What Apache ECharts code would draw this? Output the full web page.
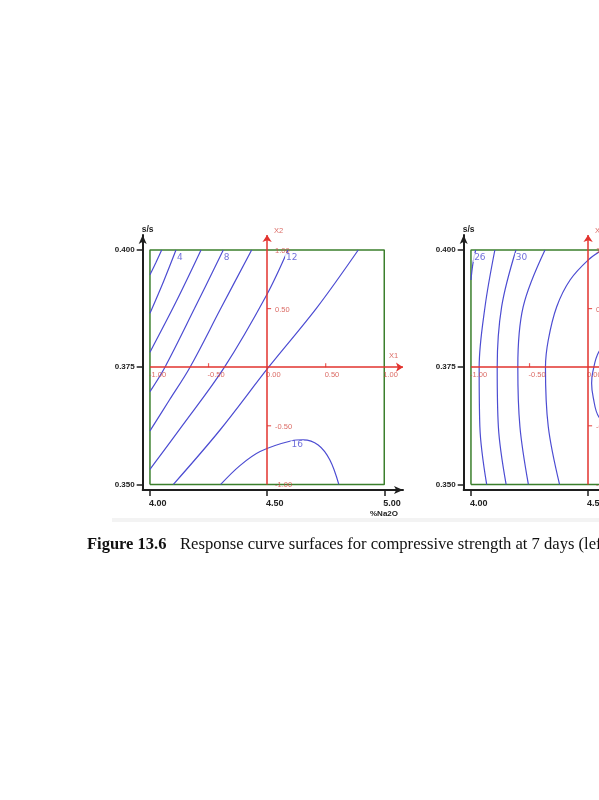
<!DOCTYPE html>
<html><head><meta charset="utf-8">
<script src="https://cdn.jsdelivr.net/npm/echarts@6/dist/echarts.min.js"></script>
<style>html,body{margin:0;padding:0;background:#fff}#c{width:599px;height:800px}</style>
</head><body><div id="c"></div>
<script>
// ---------- data ----------
const xTicks = [4.00, 4.50, 5.00];
const yTicks = [0.350, 0.375, 0.400];
const xName = '%Na2O';
const yName = 's/s';
const codedTicks = [-1, -0.5, 0, 0.5, 1];
const codedLabels = ['-1.00', '-0.50', '0.00', '0.50', '1.00'];
const codedAxisNames = ['X1', 'X2'];

// left panel (7 days): contour polylines, points as [%Na2O, s/s]
const left2  = [[4.050,0.4000],[4.025,0.3973],[4.000,0.3947]];
const left4  = [[4.111,0.4000],[4.058,0.3933],[4.000,0.3865]];
const left6  = [[4.218,0.4000],[4.112,0.3890],[4.000,0.3782]];
const left8  = [[4.313,0.4000],[4.190,0.3875],[4.064,0.3750],[4.000,0.3698]];
const left10 = [[4.434,0.4000],[4.302,0.3875],[4.171,0.3750],[4.083,0.3680],[4.000,0.3614]];
const left12 = [[4.589,0.4000],[4.498,0.3904],[4.318,0.3750],[4.135,0.3623],[4.000,0.3532]];
const left14 = [[4.889,0.4000],[4.711,0.3876],[4.508,0.3751],[4.299,0.3616],[4.100,0.3500]];
const left16 = [[4.302,0.3500],[4.384,0.3540],[4.470,0.3570],[4.605,0.3593],[4.654,0.3595],[4.718,0.3584],[4.768,0.3552],[4.806,0.3500]];
const leftLabelText = ['4', '8', '12', '16'];
const leftLabelAt = [[4.128,0.3984],[4.327,0.3984],[4.605,0.3984],[4.629,0.3584]];

// right panel (28 days)
const right26 = [[4.020,0.4000],[4.008,0.3970],[4.000,0.3936]];
const right28 = [[4.102,0.4000],[4.060,0.3879],[4.035,0.3750],[4.038,0.3623],[4.067,0.3500]];
const right30 = [[4.192,0.4000],[4.131,0.3879],[4.112,0.3750],[4.117,0.3623],[4.150,0.3500]];
const right32 = [[4.316,0.4000],[4.223,0.3879],[4.200,0.3750],[4.209,0.3623],[4.245,0.3500]];
const right34 = [[4.560,0.4000],[4.501,0.3979],[4.423,0.3936],[4.366,0.3879],[4.330,0.3808],[4.318,0.3750],[4.330,0.3623],[4.378,0.3500]];
const right36 = [[4.640,0.3840],[4.546,0.3783],[4.520,0.3740],[4.515,0.3716],[4.522,0.3685],[4.546,0.3644],[4.640,0.3600]];
const rightLabelText = ['26', '30'];
const rightLabelAt = [[4.038,0.3984],[4.216,0.3984]];

const captionBold = 'Figure 13.6';
const captionText = 'Response curve surfaces for compressive strength at 7 days (left) and 28 days (right).';

// ---------- styles / layout ----------
const BLUE = '#4c4cd2', RED = '#e2332e', REDTXT = '#d2463f', GREEN = '#3b7f2c', AX = '#1e1e1e';
const X_MIN = 3.969, X_MAX = 5.080, Y_MIN = 0.3488, Y_MAX = 0.4032;
const BOX = [[4,0.35],[5,0.35],[5,0.4],[4,0.4],[4,0.35]];
const panels = [
  {left: 142.7, lines: [left2,left4,left6,left8,left10,left12,left14,left16], labText: leftLabelText, labAt: leftLabelAt},
  {left: 463.7, lines: [right26,right28,right30,right32,right34,right36], labText: rightLabelText, labAt: rightLabelAt}
];
const c2x = c => 4.5 + 0.5 * c;
const c2y = c => 0.375 + 0.025 * c;

const grid = [], xAxis = [], yAxis = [], series = [];
panels.forEach((p, i) => {
  grid.push({left: p.left, top: 235, width: 260.3, height: 255, containLabel: false, outerBoundsMode: 'none'});
  xAxis.push({
    type: 'value', gridIndex: i, min: X_MIN, max: X_MAX,
    splitLine: {show: false},
    axisLine: {show: true, lineStyle: {color: AX, width: 2}, symbol: ['none', 'arrow'], symbolSize: [6, 9]},
    axisTick: {show: true, customValues: xTicks, length: 6, lineStyle: {color: AX, width: 1.5}},
    axisLabel: {customValues: xTicks, formatter: v => v.toFixed(2), align: 'left', margin: 9,
      fontSize: 9, fontWeight: 'bold', color: '#222', fontFamily: 'Liberation Sans', padding: [0,0,0,-1]},
    name: xName, nameLocation: 'end', nameGap: -5,
    nameTextStyle: {align: 'right', verticalAlign: 'top', padding: [20,0,0,0], fontSize: 8, fontWeight: 'bold', color: '#222', fontFamily: 'Liberation Sans'}
  });
  yAxis.push({
    type: 'value', gridIndex: i, min: Y_MIN, max: Y_MAX,
    splitLine: {show: false},
    axisLine: {show: true, lineStyle: {color: AX, width: 2}, symbol: ['none', 'arrow'], symbolSize: [6, 9]},
    axisTick: {show: true, customValues: yTicks, length: 6, lineStyle: {color: AX, width: 1.5}},
    axisLabel: {customValues: yTicks, formatter: v => v.toFixed(3), margin: 8,
      fontSize: 8, fontWeight: 'bold', color: '#222', fontFamily: 'Liberation Sans'},
    name: yName, nameLocation: 'end', nameGap: 1,
    nameTextStyle: {align: 'left', verticalAlign: 'bottom', padding: [0,0,0,-1], fontSize: 8.5, fontWeight: 'bold', color: '#222', fontFamily: 'Liberation Sans'}
  });
  // green frame + red coded axes
  series.push({
    type: 'line', xAxisIndex: i, yAxisIndex: i, data: BOX, symbol: 'none', silent: true, z: 2,
    lineStyle: {color: GREEN, width: 1.5}, animation: false,
    markLine: {
      silent: true, symbol: ['none', 'arrow'], symbolSize: 7, label: {show: false}, animation: false,
      lineStyle: {color: RED, width: 1.5, type: 'solid'},
      emphasis: {disabled: true},
      data: [
        [{coord: [c2x(-1), c2y(0)]}, {coord: [X_MAX, c2y(0)]}],
        [{coord: [c2x(0), c2y(-1)]}, {coord: [c2x(0), Y_MAX]}]
      ]
    }
  });
  // red small ticks
  series.push({
    type: 'scatter', xAxisIndex: i, yAxisIndex: i, silent: true, z: 4, animation: false,
    symbol: 'rect', symbolSize: [1.2, 4], symbolOffset: [0, -2], itemStyle: {color: RED},
    data: codedTicks.filter(c => Math.abs(c) === 0.5).map(c => [c2x(c), c2y(0)])
  });
  series.push({
    type: 'scatter', xAxisIndex: i, yAxisIndex: i, silent: true, z: 4, animation: false,
    symbol: 'rect', symbolSize: [4, 1.2], symbolOffset: [2, 0], itemStyle: {color: RED},
    data: codedTicks.filter(c => Math.abs(c) === 0.5).map(c => [c2x(0), c2y(c)])
  });
  const redLab = {show: true, color: REDTXT, fontSize: 7.5, fontFamily: 'Liberation Sans', formatter: d => d.value[2]};
  series.push({
    type: 'scatter', xAxisIndex: i, yAxisIndex: i, silent: true, z: 5, symbolSize: 0, animation: false, clip: false,
    label: Object.assign({position: [-1, 4], align: 'left', verticalAlign: 'top'}, redLab),
    data: codedTicks.map((c, k) => [c2x(c), c2y(0), codedLabels[k]])
  });
  series.push({
    type: 'scatter', xAxisIndex: i, yAxisIndex: i, silent: true, z: 5, symbolSize: 0, animation: false, clip: false,
    label: Object.assign({position: [8, 1], align: 'left', verticalAlign: 'middle'}, redLab),
    data: codedTicks.map((c, k) => [c2x(0), c2y(c), codedLabels[k]]).filter((d, k) => codedTicks[k] !== 0)
  });
  // X1 / X2 names
  series.push({
    type: 'scatter', xAxisIndex: i, yAxisIndex: i, silent: true, z: 5, symbolSize: 0, animation: false, clip: false,
    label: {show: true, color: REDTXT, fontSize: 7.5, fontFamily: 'Liberation Sans', formatter: d => d.value[2]},
    data: [
      {value: [X_MAX, c2y(0), codedAxisNames[0]], label: {position: [-14, -15], align: 'left', verticalAlign: 'top'}},
      {value: [c2x(0), Y_MAX, codedAxisNames[1]], label: {position: [7, -8], align: 'left', verticalAlign: 'top'}}
    ]
  });
  // contour lines
  p.lines.forEach(l => series.push({
    type: 'line', xAxisIndex: i, yAxisIndex: i, data: l, symbol: 'none', smooth: 0.35, silent: true, z: 3,
    lineStyle: {color: BLUE, width: 1.2}, animation: false
  }));
  // contour labels
  series.push({
    type: 'scatter', xAxisIndex: i, yAxisIndex: i, silent: true, z: 6, symbolSize: 0, animation: false, clip: false,
    label: {show: true, position: 'inside', color: BLUE, fontSize: 9, fontFamily: 'DejaVu Sans',
      backgroundColor: '#fff', padding: [0, 1], formatter: d => d.value[2]},
    data: p.labAt.map((a, k) => [a[0], a[1], p.labText[k]])
  });
});

const chart = echarts.init(document.getElementById('c'), null, {renderer: 'canvas'});
chart.setOption({
  backgroundColor: '#fff',
  animation: false,
  grid, xAxis, yAxis, series,
  graphic: [
    {type: 'rect', z: -10, shape: {x: 112, y: 518, width: 487, height: 4}, style: {fill: '#f3f3f3'}},
    {type: 'text', left: 87, top: 536, style: {text: captionBold, font: 'bold 16.5px "Liberation Serif"', fill: '#111'}},
    {type: 'text', left: 180, top: 536, style: {text: captionText, font: '16.6px "Liberation Serif"', fill: '#111'}}
  ]
});
</script></body></html>
